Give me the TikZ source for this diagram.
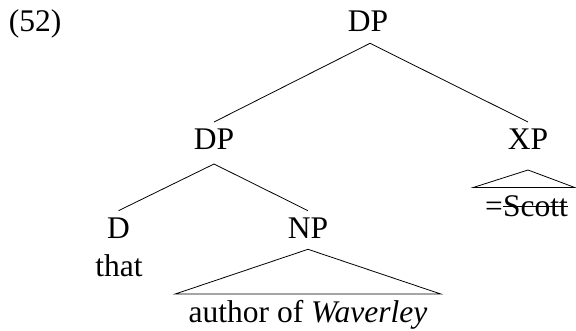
\documentclass[tikz,border=0pt]{standalone}
\usepackage{fontspec}
\setmainfont{Liberation Serif}
\newcommand\mystrike[1]{\setbox0\hbox{#1}\rlap{\vrule height 0.35em depth -0.32em width \wd0}\box0}
\begin{document}
\begin{tikzpicture}[x=1pt,y=-1pt,
  lbl/.style={inner sep=0pt,outer sep=0pt,anchor=base,font=\fontsize{31.5}{37}\selectfont},
  edge/.style={line width=0.8pt,black}]
\useasboundingbox (0,0) rectangle (576,331);
\node[lbl,anchor=base west] (ex) at (9,31.7) {(52)};
\node[lbl] (dp0) at (368,31.7) {DP};
\node[lbl] (dp1) at (214,150) {DP};
\node[lbl] (xp) at (528,150) {XP};
\node[lbl] (d) at (118.5,238.3) {D};
\node[lbl] (np) at (308,238.3) {NP};
\node[lbl] (that) at (119,276.5) {that};
\node[lbl] (awv) at (308,323) {author of \textit{Waverley}};
\node[lbl] (scott) at (526.5,217) {=\mystrike{Scott}};
\coordinate (dp0b) at ([xshift=2pt,yshift=-11.6pt]dp0.base);
\draw[edge] (dp0b) -- ([yshift=28pt]dp1.base);
\draw[edge] (dp0b) -- ([yshift=28pt]xp.base);
\draw[edge] ([yshift=-14pt]dp1.base) -- ([yshift=27.6pt]d.base);
\draw[edge] ([yshift=-14pt]dp1.base) -- ([yshift=27.6pt]np.base);
\draw[edge] ([yshift=-11pt]np.base) -- ([xshift=-13.5pt,yshift=29pt]awv.base west)
  -- ([xshift=13.5pt,yshift=29pt]awv.base east) -- cycle;
\draw[edge] ([yshift=-20pt]xp.base) -- ([xshift=-12pt,yshift=29.5pt]scott.base west)
  -- ([xshift=7pt,yshift=29.5pt]scott.base east) -- cycle;
\end{tikzpicture}
\end{document}
